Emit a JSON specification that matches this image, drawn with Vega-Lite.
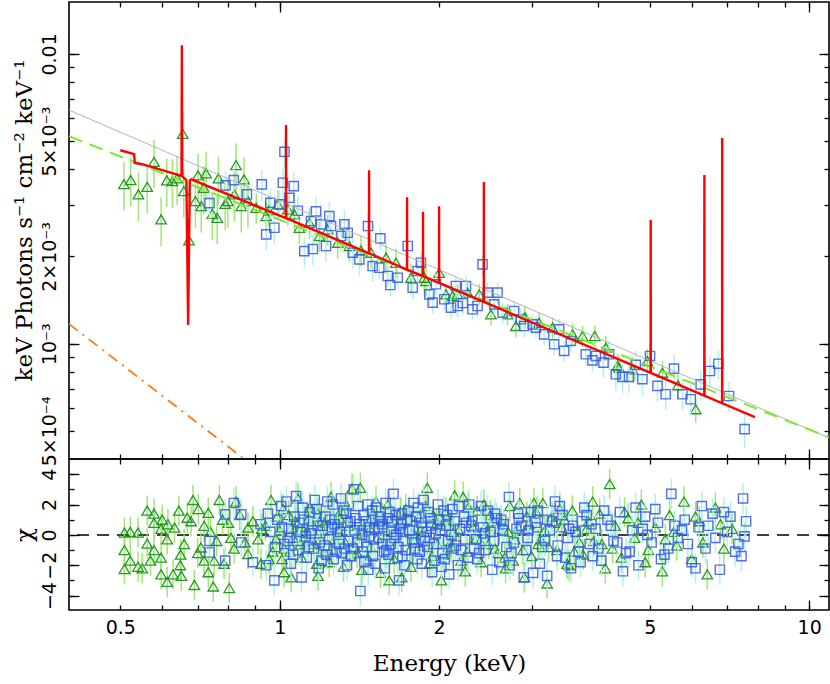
{
  "$schema": "https://vega.github.io/schema/vega-lite/v6.json",
  "padding": {"left": 12, "top": 0, "right": 2, "bottom": 0},
  "spacing": 0,
  "bounds": "flush",
  "background": "white",
  "config": {
    "view": {"stroke": "black", "strokeWidth": 1.6},
    "axis": {"domain": false, "grid": false, "tickColor": "black", "tickWidth": 1.3, "labelFont": "DejaVu Sans", "labelFontSize": 19, "labelColor": "black", "titleFont": "DejaVu Serif", "titleFontSize": 23, "titleFontWeight": "normal", "titleColor": "black", "labelFlush": false, "labelOverlap": false}
  },
  "datasets": {
    "model": [
      {"c": "gray", "E": 0.4, "f": 0.0064}, {"c": "gray", "E": 10.9, "f": 0.000473},
      {"c": "green", "E": 0.4, "f": 0.0052}, {"c": "green", "E": 10.9, "f": 0.000475},
      {"c": "orange", "E": 0.4, "f": 0.00117}, {"c": "orange", "E": 0.85, "f": 0.000405},
      {"c": "red", "E": 0.5, "f": 0.00465}, {"c": "red", "E": 0.531, "f": 0.00451}, {"c": "red", "E": 0.5325, "f": 0.0042}, {"c": "red", "E": 0.548, "f": 0.00417},
      {"c": "red", "E": 0.6525, "f": 0.00379}, {"c": "red", "E": 0.6535, "f": 0.0107}, {"c": "red", "E": 0.6545, "f": 0.00378},
      {"c": "red", "E": 0.6665, "f": 0.00367}, {"c": "red", "E": 0.6715, "f": 0.00116}, {"c": "red", "E": 0.6765, "f": 0.00366}, {"c": "red", "E": 0.681, "f": 0.00369},
      {"c": "red", "E": 1.0275, "f": 0.00271}, {"c": "red", "E": 1.028, "f": 0.00568}, {"c": "red", "E": 1.0285, "f": 0.00271},
      {"c": "red", "E": 1.4745, "f": 0.00205}, {"c": "red", "E": 1.475, "f": 0.00397}, {"c": "red", "E": 1.4755, "f": 0.00205},
      {"c": "red", "E": 1.7395, "f": 0.0018}, {"c": "red", "E": 1.74, "f": 0.0032}, {"c": "red", "E": 1.7405, "f": 0.0018},
      {"c": "red", "E": 1.8645, "f": 0.00171}, {"c": "red", "E": 1.865, "f": 0.00285}, {"c": "red", "E": 1.8655, "f": 0.00171},
      {"c": "red", "E": 1.9995, "f": 0.00162}, {"c": "red", "E": 2.0, "f": 0.00298}, {"c": "red", "E": 2.0005, "f": 0.00162},
      {"c": "red", "E": 2.4295, "f": 0.001393}, {"c": "red", "E": 2.43, "f": 0.00361}, {"c": "red", "E": 2.4305, "f": 0.001393},
      {"c": "red", "E": 5.018, "f": 0.000793}, {"c": "red", "E": 5.02, "f": 0.00267}, {"c": "red", "E": 5.022, "f": 0.000793},
      {"c": "red", "E": 6.337, "f": 0.000662}, {"c": "red", "E": 6.34, "f": 0.00382}, {"c": "red", "E": 6.343, "f": 0.000662},
      {"c": "red", "E": 6.847, "f": 0.000623}, {"c": "red", "E": 6.85, "f": 0.00512}, {"c": "red", "E": 6.853, "f": 0.000623},
      {"c": "red", "E": 7.9, "f": 0.000558}
    ],
    "top_g": [
      {"E":0.508,"f":0.003554,"e":0.000675},{"E":0.523,"f":0.003668,"e":0.000697},{"E":0.541,"f":0.003275,"e":0.000622},{"E":0.562,"f":0.003478,"e":0.000661},
      {"E":0.579,"f":0.004243,"e":0.000806},{"E":0.597,"f":0.002685,"e":0.00051},{"E":0.612,"f":0.00366,"e":0.000695},{"E":0.627,"f":0.003639,"e":0.000691},
      {"E":0.64,"f":0.003718,"e":0.000706},{"E":0.656,"f":0.005298,"e":0.001007},{"E":0.659,"f":0.003362,"e":0.000639},{"E":0.674,"f":0.002273,"e":0.000432},
      {"E":0.693,"f":0.003105,"e":0.00059},{"E":0.701,"f":0.003808,"e":0.000724},{"E":0.711,"f":0.002984,"e":0.000567},{"E":0.719,"f":0.003451,"e":0.000656},
      {"E":0.726,"f":0.003869,"e":0.000735},{"E":0.746,"f":0.002807,"e":0.000533},{"E":0.762,"f":0.002719,"e":0.000517},{"E":0.766,"f":0.003718,"e":0.000706},
      {"E":0.789,"f":0.003039,"e":0.000577},{"E":0.798,"f":0.003105,"e":0.00059},{"E":0.821,"f":0.003275,"e":0.000622},{"E":0.827,"f":0.004133,"e":0.000785},
      {"E":0.846,"f":0.002984,"e":0.000567},{"E":0.856,"f":0.003689,"e":0.000701},{"E":0.871,"f":0.003105,"e":0.00059},{"E":0.903,"f":0.002944,"e":0.000353},
      {"E":0.943,"f":0.002756,"e":0.000331},{"E":0.954,"f":0.002884,"e":0.000346},{"E":0.992,"f":0.003025,"e":0.000363},{"E":1.036,"f":0.002907,"e":0.000349},
      {"E":1.066,"f":0.002794,"e":0.000335},{"E":1.089,"f":0.002512,"e":0.000301},{"E":1.138,"f":0.002614,"e":0.000314},{"E":1.188,"f":0.002352,"e":0.000282},
      {"E":1.232,"f":0.00248,"e":0.000298},{"E":1.287,"f":0.00223,"e":0.000268},{"E":1.354,"f":0.002173,"e":0.000261},{"E":1.424,"f":0.002099,"e":0.000252},
      {"E":1.488,"f":0.00206,"e":0.000247},{"E":1.588,"f":0.00198,"e":0.000238},{"E":1.658,"f":0.001902,"e":0.000228},{"E":1.77,"f":0.001689,"e":0.000203},
      {"E":1.875,"f":0.001689,"e":0.000203},{"E":1.889,"f":0.001645,"e":0.000197},{"E":2.001,"f":0.001757,"e":0.000149},{"E":2.061,"f":0.00148,"e":0.000126},
      {"E":2.121,"f":0.001461,"e":0.000124},{"E":2.168,"f":0.00148,"e":0.000126},{"E":2.264,"f":0.0015,"e":0.000128},{"E":2.381,"f":0.00148,"e":0.000126},
      {"E":2.506,"f":0.001263,"e":0.000107},{"E":2.694,"f":0.001263,"e":0.000107},{"E":2.793,"f":0.001151,"e":0.000098},{"E":2.904,"f":0.001236,"e":0.000105},
      {"E":3.09,"f":0.001181,"e":0.0001},{"E":3.276,"f":0.001136,"e":0.000097},{"E":3.573,"f":0.001077,"e":0.000092},{"E":3.732,"f":0.001063,"e":0.00009},
      {"E":3.937,"f":0.001063,"e":0.00009},{"E":4.13,"f":0.000969,"e":0.000097},{"E":4.345,"f":0.000838,"e":0.000084},{"E":4.375,"f":0.000827,"e":0.000083},
      {"E":4.637,"f":0.000816,"e":0.000082},{"E":4.949,"f":0.000871,"e":0.000087},{"E":5.283,"f":0.000794,"e":0.000079},{"E":5.653,"f":0.000719,"e":0.000072},
      {"E":6.106,"f":0.000594,"e":0.000059}
    ],
    "top_b": [
      {"E":1.021,"f":0.004593,"e":0.000551},{"E":0.737,"f":0.003056,"e":0.000367},{"E":0.79,"f":0.003518,"e":0.000422},{"E":0.819,"f":0.003668,"e":0.00044},
      {"E":0.867,"f":0.003275,"e":0.000393},{"E":0.925,"f":0.003545,"e":0.000425},{"E":0.96,"f":0.003063,"e":0.000368},{"E":0.943,"f":0.002384,"e":0.000286},
      {"E":0.977,"f":0.002512,"e":0.000301},{"E":0.999,"f":0.003025,"e":0.000363},{"E":1.014,"f":0.003591,"e":0.000431},{"E":1.043,"f":0.003187,"e":0.000382},
      {"E":1.063,"f":0.003498,"e":0.00042},{"E":1.082,"f":0.002875,"e":0.000345},{"E":1.113,"f":0.002087,"e":0.00025},{"E":1.155,"f":0.002121,"e":0.000255},
      {"E":1.171,"f":0.002861,"e":0.000343},{"E":1.146,"f":0.002649,"e":0.000318},{"E":1.197,"f":0.00258,"e":0.00031},{"E":1.241,"f":0.002756,"e":0.000331},
      {"E":1.25,"f":0.002546,"e":0.000306},{"E":1.325,"f":0.00258,"e":0.00031},{"E":1.223,"f":0.002173,"e":0.000261},{"E":1.306,"f":0.002352,"e":0.000282},
      {"E":1.344,"f":0.002414,"e":0.00029},{"E":1.374,"f":0.00206,"e":0.000247},{"E":1.414,"f":0.001954,"e":0.000234},{"E":1.468,"f":0.002546,"e":0.000306},
      {"E":1.549,"f":0.002309,"e":0.000196},{"E":1.498,"f":0.001853,"e":0.000222},{"E":1.542,"f":0.001828,"e":0.000155},{"E":1.6,"f":0.001712,"e":0.000146},
      {"E":1.671,"f":0.001689,"e":0.000144},{"E":1.618,"f":0.001594,"e":0.000135},{"E":1.745,"f":0.002173,"e":0.000185},{"E":1.783,"f":0.00156,"e":0.000133},
      {"E":1.848,"f":0.001902,"e":0.000162},{"E":1.822,"f":0.001781,"e":0.000151},{"E":1.917,"f":0.00148,"e":0.000126},{"E":1.945,"f":0.001385,"e":0.000118},
      {"E":2.151,"f":0.001581,"e":0.000134},{"E":2.168,"f":0.001349,"e":0.000115},{"E":2.416,"f":0.001878,"e":0.00016},{"E":1.973,"f":0.001603,"e":0.000136},
      {"E":2.046,"f":0.001423,"e":0.000121},{"E":2.106,"f":0.001331,"e":0.000113},{"E":2.218,"f":0.001381,"e":0.000117},{"E":2.248,"f":0.001581,"e":0.000134},
      {"E":2.313,"f":0.001314,"e":0.000112},{"E":2.365,"f":0.001349,"e":0.000115},{"E":2.47,"f":0.0015,"e":0.000128},{"E":2.579,"f":0.0015,"e":0.000128},
      {"E":2.542,"f":0.001367,"e":0.000116},{"E":2.636,"f":0.001279,"e":0.000109},{"E":2.772,"f":0.001297,"e":0.00011},{"E":2.854,"f":0.001214,"e":0.000103},
      {"E":2.896,"f":0.001151,"e":0.000098},{"E":3.003,"f":0.001166,"e":0.000099},{"E":3.047,"f":0.001136,"e":0.000097},{"E":3.158,"f":0.001077,"e":0.000092},
      {"E":3.371,"f":0.001121,"e":0.000095},{"E":3.299,"f":0.000995,"e":0.000085},{"E":3.445,"f":0.000944,"e":0.00008},{"E":3.547,"f":0.001022,"e":0.000087},
      {"E":3.785,"f":0.000919,"e":0.000078},{"E":3.897,"f":0.000876,"e":0.000074},{"E":3.954,"f":0.000907,"e":0.000077},{"E":4.088,"f":0.00086,"e":0.000103},
      {"E":4.189,"f":0.000919,"e":0.00011},{"E":4.313,"f":0.000784,"e":0.000094},{"E":4.44,"f":0.000768,"e":0.000092},{"E":4.569,"f":0.000768,"e":0.000092},
      {"E":4.704,"f":0.000845,"e":0.000101},{"E":4.842,"f":0.000754,"e":0.00009},{"E":5.005,"f":0.000907,"e":0.000109},{"E":5.17,"f":0.000715,"e":0.000086},
      {"E":5.358,"f":0.000669,"e":0.00008},{"E":5.555,"f":0.00082,"e":0.000098},{"E":5.763,"f":0.000669,"e":0.00008},{"E":5.974,"f":0.000643,"e":0.000077},
      {"E":6.238,"f":0.000724,"e":0.000087},{"E":6.495,"f":0.000805,"e":0.000097},{"E":6.737,"f":0.000853,"e":0.000102},{"E":7.055,"f":0.00066,"e":0.000079},
      {"E":7.553,"f":0.000507,"e":0.000071}
    ],
    "res_g": [
      {"E":0.509,"r":0.15,"lo":-0.85,"hi":1.15},{"E":0.522,"r":0.2,"lo":-0.8,"hi":1.2},{"E":0.54,"r":0.15,"lo":-0.85,"hi":1.15},{"E":0.509,"r":-1.0,"lo":-2.0,"hi":0.0},
      {"E":0.509,"r":-2.25,"lo":-3.25,"hi":-1.25},{"E":0.522,"r":-1.7,"lo":-2.7,"hi":-0.7},{"E":0.54,"r":-2.1,"lo":-3.1,"hi":-1.1},{"E":0.562,"r":1.6,"lo":0.6,"hi":2.6},
      {"E":0.579,"r":1.4,"lo":0.4,"hi":2.4},{"E":0.579,"r":0.8,"lo":-0.2,"hi":1.8},{"E":0.562,"r":-0.57,"lo":-1.57,"hi":0.43},{"E":0.579,"r":-1.0,"lo":-2.0,"hi":0.0},
      {"E":0.597,"r":-1.5,"lo":-2.5,"hi":-0.5},{"E":0.597,"r":-2.6,"lo":-3.6,"hi":-1.6},{"E":0.613,"r":-3.1,"lo":-4.1,"hi":-2.1},{"E":0.629,"r":-2.6,"lo":-3.6,"hi":-1.6},
      {"E":0.649,"r":-2.0,"lo":-3.0,"hi":-1.0},{"E":0.652,"r":-2.7,"lo":-3.7,"hi":-1.7},{"E":0.686,"r":2.3,"lo":1.3,"hi":3.3},{"E":0.69,"r":-3.3,"lo":-4.3,"hi":-2.3},
      {"E":0.702,"r":1.7,"lo":0.7,"hi":2.7},{"E":0.749,"r":-3.4,"lo":-4.4,"hi":-2.4},{"E":0.769,"r":2.3,"lo":1.3,"hi":3.3},{"E":0.803,"r":-3.5,"lo":-4.5,"hi":-2.5},
      {"E":0.645,"r":1.6,"lo":0.6,"hi":2.6},{"E":0.615,"r":0.7,"lo":-0.3,"hi":1.7},{"E":0.633,"r":0.48,"lo":-0.52,"hi":1.48},{"E":0.669,"r":1.13,"lo":0.13,"hi":2.13},
      {"E":0.733,"r":-2.46,"lo":-3.46,"hi":-1.46},{"E":0.72,"r":-1.7,"lo":-2.7,"hi":-0.7},{"E":0.71,"r":-0.83,"lo":-1.83,"hi":0.17},{"E":0.733,"r":1.45,"lo":0.45,"hi":2.45},
      {"E":0.752,"r":-1.7,"lo":-2.7,"hi":-0.7},{"E":0.785,"r":-1.9,"lo":-2.9,"hi":-0.9},{"E":0.827,"r":2.2,"lo":1.2,"hi":3.2},{"E":0.809,"r":-0.2,"lo":-1.2,"hi":0.8},
      {"E":0.871,"r":0.48,"lo":-0.52,"hi":1.48},{"E":0.871,"r":-1.26,"lo":-2.26,"hi":-0.26},{"E":0.963,"r":2.3,"lo":1.3,"hi":3.3},{"E":1.019,"r":-2.46,"lo":-3.46,"hi":-1.46},
      {"E":1.051,"r":-2.8,"lo":-3.8,"hi":-1.8},{"E":1.083,"r":2.4,"lo":1.4,"hi":3.4},{"E":1.181,"r":-2.7,"lo":-3.7,"hi":-1.7},{"E":0.922,"r":-1.9,"lo":-2.9,"hi":-0.9},
      {"E":0.597,"r":0.4,"lo":-0.6,"hi":1.4},{"E":0.613,"r":-0.3,"lo":-1.3,"hi":0.7},{"E":0.66,"r":-0.6,"lo":-1.6,"hi":0.4},{"E":0.68,"r":0.9,"lo":-0.1,"hi":1.9},
      {"E":0.7,"r":-1.2,"lo":-2.2,"hi":-0.2},{"E":0.72,"r":0.6,"lo":-0.4,"hi":1.6},{"E":0.74,"r":0.2,"lo":-0.8,"hi":1.2},{"E":0.76,"r":-0.4,"lo":-1.4,"hi":0.6},
      {"E":0.78,"r":1.0,"lo":0.0,"hi":2.0},{"E":0.8,"r":0.8,"lo":-0.2,"hi":1.8},{"E":0.82,"r":-0.9,"lo":-1.9,"hi":0.1},{"E":0.84,"r":1.3,"lo":0.3,"hi":2.3},
      {"E":0.86,"r":-0.5,"lo":-1.5,"hi":0.5},{"E":0.89,"r":0.9,"lo":-0.1,"hi":1.9},{"E":0.91,"r":-0.3,"lo":-1.3,"hi":0.7},{"E":0.94,"r":0.6,"lo":-0.4,"hi":1.6},
      {"E":0.97,"r":-1.1,"lo":-2.1,"hi":-0.1},{"E":0.99,"r":1.2,"lo":0.2,"hi":2.2},{"E":0.65,"r":-1.3,"lo":-2.3,"hi":-0.3},{"E":0.55,"r":-2.2,"lo":-3.2,"hi":-1.2},
      {"E":0.57,"r":-1.7,"lo":-2.7,"hi":-0.7},{"E":0.6,"r":1.0,"lo":0.0,"hi":2.0},
      {"E":1.0,"r":0.3,"lo":-0.7,"hi":1.3},{"E":1.02,"r":-0.9,"lo":-1.9,"hi":0.1},{"E":1.04,"r":1.3,"lo":0.3,"hi":2.3},{"E":1.06,"r":-0.2,"lo":-1.2,"hi":0.8},
      {"E":1.08,"r":0.7,"lo":-0.3,"hi":1.7},{"E":1.1,"r":-1.5,"lo":-2.5,"hi":-0.5},{"E":1.12,"r":0.1,"lo":-0.9,"hi":1.1},{"E":1.14,"r":1.8,"lo":0.8,"hi":2.8},
      {"E":1.16,"r":-0.6,"lo":-1.6,"hi":0.4},{"E":1.19,"r":0.9,"lo":-0.1,"hi":1.9},{"E":1.21,"r":-1.2,"lo":-2.2,"hi":-0.2},{"E":1.23,"r":0.4,"lo":-0.6,"hi":1.4},
      {"E":1.25,"r":2.5,"lo":1.5,"hi":3.5},{"E":1.27,"r":-0.3,"lo":-1.3,"hi":0.7},{"E":1.3,"r":1.1,"lo":0.1,"hi":2.1},{"E":1.32,"r":-2.1,"lo":-3.1,"hi":-1.1},
      {"E":1.35,"r":0.6,"lo":-0.4,"hi":1.6},{"E":1.37,"r":3.05,"lo":2.05,"hi":4.05},{"E":1.39,"r":-0.8,"lo":-1.8,"hi":0.2},{"E":1.42,"r":3.1,"lo":2.1,"hi":4.1},
      {"E":1.44,"r":0.2,"lo":-0.8,"hi":1.2},{"E":1.47,"r":-1.6,"lo":-2.6,"hi":-0.6},{"E":1.5,"r":1.4,"lo":0.4,"hi":2.4},{"E":1.52,"r":2.2,"lo":1.2,"hi":3.2},
      {"E":1.55,"r":-2.5,"lo":-3.5,"hi":-1.5},{"E":1.58,"r":0.5,"lo":-0.5,"hi":1.5},{"E":1.61,"r":-3.0,"lo":-4.0,"hi":-2.0},{"E":1.64,"r":1.0,"lo":0.0,"hi":2.0},
      {"E":1.67,"r":-0.4,"lo":-1.4,"hi":0.6},{"E":1.7,"r":-2.8,"lo":-3.8,"hi":-1.8},{"E":1.73,"r":1.7,"lo":0.7,"hi":2.7},{"E":1.76,"r":-1.0,"lo":-2.0,"hi":0.0},
      {"E":1.8,"r":0.0,"lo":-1.0,"hi":1.0},{"E":1.83,"r":1.2,"lo":0.2,"hi":2.2},{"E":1.87,"r":-0.7,"lo":-1.7,"hi":0.3},{"E":1.9,"r":3.1,"lo":2.1,"hi":4.1},
      {"E":1.94,"r":-1.4,"lo":-2.4,"hi":-0.4},{"E":1.98,"r":0.8,"lo":-0.2,"hi":1.8},{"E":2.02,"r":-3.0,"lo":-4.0,"hi":-2.0},{"E":2.06,"r":1.5,"lo":0.5,"hi":2.5},
      {"E":2.1,"r":-0.5,"lo":-1.5,"hi":0.5},{"E":2.14,"r":2.6,"lo":1.6,"hi":3.6},{"E":2.18,"r":0.3,"lo":-0.7,"hi":1.3},{"E":2.22,"r":2.5,"lo":1.5,"hi":3.5},
      {"E":2.26,"r":-1.1,"lo":-2.1,"hi":-0.1},{"E":2.3,"r":1.0,"lo":0.0,"hi":2.0},{"E":2.35,"r":-0.2,"lo":-1.2,"hi":0.8},{"E":2.4,"r":-1.8,"lo":-2.8,"hi":-0.8},
      {"E":2.45,"r":0.6,"lo":-0.4,"hi":1.6},{"E":2.5,"r":1.3,"lo":0.3,"hi":2.3},{"E":2.55,"r":-0.9,"lo":-1.9,"hi":0.1},{"E":2.6,"r":0.4,"lo":-0.6,"hi":1.4},
      {"E":2.66,"r":-1.5,"lo":-2.5,"hi":-0.5},{"E":2.72,"r":1.9,"lo":0.9,"hi":2.9},{"E":2.78,"r":-0.3,"lo":-1.3,"hi":0.7},{"E":2.84,"r":2.1,"lo":1.1,"hi":3.1},
      {"E":2.9,"r":-2.8,"lo":-3.8,"hi":-1.8},{"E":2.96,"r":0.7,"lo":-0.3,"hi":1.7},{"E":3.02,"r":2.1,"lo":1.1,"hi":3.1},{"E":3.08,"r":-0.6,"lo":-1.6,"hi":0.4},
      {"E":3.14,"r":2.1,"lo":1.1,"hi":3.1},{"E":3.2,"r":-3.2,"lo":-4.2,"hi":-2.2},{"E":3.27,"r":1.2,"lo":0.2,"hi":2.2},{"E":3.34,"r":-1.0,"lo":-2.0,"hi":0.0},
      {"E":3.41,"r":0.5,"lo":-0.5,"hi":1.5},{"E":3.49,"r":-1.9,"lo":-2.9,"hi":-0.9},{"E":3.57,"r":1.6,"lo":0.6,"hi":2.6},{"E":3.65,"r":0.2,"lo":-0.8,"hi":1.2},
      {"E":3.74,"r":-1.3,"lo":-2.3,"hi":-0.3},{"E":3.83,"r":0.9,"lo":-0.1,"hi":1.9},
      {"E":1.01,"r":-1.6,"lo":-2.6,"hi":-0.6},{"E":1.07,"r":0.9,"lo":-0.1,"hi":1.9},{"E":1.13,"r":-0.4,"lo":-1.4,"hi":0.6},{"E":1.18,"r":1.4,"lo":0.4,"hi":2.4},
      {"E":1.24,"r":-1.8,"lo":-2.8,"hi":-0.8},{"E":1.29,"r":0.3,"lo":-0.7,"hi":1.3},{"E":1.34,"r":1.9,"lo":0.9,"hi":2.9},{"E":1.4,"r":-1.2,"lo":-2.2,"hi":-0.2},
      {"E":1.46,"r":0.7,"lo":-0.3,"hi":1.7},{"E":1.53,"r":-0.2,"lo":-1.2,"hi":0.8},{"E":1.6,"r":2.0,"lo":1.0,"hi":3.0},{"E":1.68,"r":0.6,"lo":-0.4,"hi":1.6},
      {"E":1.77,"r":-2.1,"lo":-3.1,"hi":-1.1},{"E":1.85,"r":0.4,"lo":-0.6,"hi":1.4},{"E":1.95,"r":1.3,"lo":0.3,"hi":2.3},{"E":2.04,"r":-1.3,"lo":-2.3,"hi":-0.3},
      {"E":2.13,"r":0.2,"lo":-0.8,"hi":1.2},{"E":2.24,"r":-2.4,"lo":-3.4,"hi":-1.4},{"E":2.36,"r":1.6,"lo":0.6,"hi":2.6},{"E":2.48,"r":-0.6,"lo":-1.6,"hi":0.4},
      {"E":2.62,"r":0.9,"lo":-0.1,"hi":1.9},{"E":2.76,"r":-1.7,"lo":-2.7,"hi":-0.7},{"E":2.93,"r":1.2,"lo":0.2,"hi":2.2},{"E":3.11,"r":-0.3,"lo":-1.3,"hi":0.7},
      {"E":3.3,"r":0.8,"lo":-0.2,"hi":1.8},{"E":3.52,"r":-2.0,"lo":-3.0,"hi":-1.0},
      {"E":0.925,"r":0.4,"lo":-0.6,"hi":1.4},{"E":0.955,"r":-1.6,"lo":-2.6,"hi":-0.6},{"E":0.985,"r":-0.3,"lo":-1.3,"hi":0.7},{"E":1.015,"r":1.7,"lo":0.7,"hi":2.7},
      {"E":1.055,"r":0.5,"lo":-0.5,"hi":1.5},{"E":1.095,"r":-0.6,"lo":-1.6,"hi":0.4},{"E":1.135,"r":1.1,"lo":0.1,"hi":2.1},{"E":1.175,"r":-1.9,"lo":-2.9,"hi":-0.9},
      {"E":1.215,"r":0.8,"lo":-0.2,"hi":1.8},{"E":1.255,"r":-0.9,"lo":-1.9,"hi":0.1},{"E":1.305,"r":1.6,"lo":0.6,"hi":2.6},{"E":1.355,"r":-1.3,"lo":-2.3,"hi":-0.3},
      {"E":1.415,"r":0.4,"lo":-0.6,"hi":1.4},{"E":1.485,"r":-0.8,"lo":-1.8,"hi":0.2},{"E":1.565,"r":1.1,"lo":0.1,"hi":2.1},{"E":1.645,"r":-1.6,"lo":-2.6,"hi":-0.6},
      {"E":1.715,"r":0.9,"lo":-0.1,"hi":1.9},{"E":1.795,"r":-0.4,"lo":-1.4,"hi":0.6},{"E":1.885,"r":1.9,"lo":0.9,"hi":2.9},{"E":1.985,"r":-0.6,"lo":-1.6,"hi":0.4},
      {"E":2.08,"r":1.0,"lo":0.0,"hi":2.0},{"E":2.2,"r":-1.7,"lo":-2.7,"hi":-0.7},{"E":2.32,"r":0.5,"lo":-0.5,"hi":1.5},{"E":2.43,"r":2.0,"lo":1.0,"hi":3.0},
      {"E":2.58,"r":-1.2,"lo":-2.2,"hi":-0.2},{"E":2.7,"r":0.2,"lo":-0.8,"hi":1.2},{"E":2.88,"r":-1.0,"lo":-2.0,"hi":0.0},{"E":3.05,"r":1.5,"lo":0.5,"hi":2.5},
      {"E":3.22,"r":-0.8,"lo":-1.8,"hi":0.2},{"E":3.45,"r":1.0,"lo":0.0,"hi":2.0},{"E":3.68,"r":-0.5,"lo":-1.5,"hi":0.5},{"E":3.9,"r":2.2,"lo":1.2,"hi":3.2},
      {"E":4.25,"r":-0.9,"lo":-1.9,"hi":0.1},{"E":4.75,"r":0.8,"lo":-0.2,"hi":1.8},{"E":5.35,"r":-0.3,"lo":-1.3,"hi":0.7},{"E":6.1,"r":1.2,"lo":0.2,"hi":2.2},
      {"E":1.045,"r":-1.1,"lo":-2.1,"hi":-0.1},{"E":1.115,"r":0.6,"lo":-0.4,"hi":1.6},{"E":1.195,"r":-0.3,"lo":-1.3,"hi":0.7},{"E":1.265,"r":1.2,"lo":0.2,"hi":2.2},
      {"E":1.33,"r":-0.5,"lo":-1.5,"hi":0.5},{"E":1.43,"r":-2.3,"lo":-3.3,"hi":-1.3},{"E":1.51,"r":0.9,"lo":-0.1,"hi":1.9},{"E":1.59,"r":-1.2,"lo":-2.2,"hi":-0.2},
      {"E":1.69,"r":1.5,"lo":0.5,"hi":2.5},{"E":1.78,"r":0.1,"lo":-0.9,"hi":1.1},{"E":1.92,"r":-1.9,"lo":-2.9,"hi":-0.9},{"E":2.01,"r":0.7,"lo":-0.3,"hi":1.7},
      {"E":2.11,"r":-0.8,"lo":-1.8,"hi":0.2},{"E":2.27,"r":1.8,"lo":0.8,"hi":2.8},{"E":2.39,"r":-0.4,"lo":-1.4,"hi":0.6},{"E":2.53,"r":0.9,"lo":-0.1,"hi":1.9},
      {"E":2.67,"r":-2.2,"lo":-3.2,"hi":-1.2},{"E":2.82,"r":0.5,"lo":-0.5,"hi":1.5},{"E":2.99,"r":-1.4,"lo":-2.4,"hi":-0.4},{"E":3.17,"r":0.3,"lo":-0.7,"hi":1.3},
      {"E":3.38,"r":1.7,"lo":0.7,"hi":2.7},{"E":3.6,"r":-1.1,"lo":-2.1,"hi":-0.1},{"E":3.8,"r":0.4,"lo":-0.6,"hi":1.4},{"E":4.06,"r":-0.6,"lo":-1.6,"hi":0.4},
      {"E":4.48,"r":1.5,"lo":0.5,"hi":2.5},{"E":4.9,"r":-1.8,"lo":-2.8,"hi":-0.8},{"E":5.55,"r":0.2,"lo":-0.8,"hi":1.2},{"E":6.3,"r":-0.5,"lo":-1.5,"hi":0.5},
      {"E":6.8,"r":0.7,"lo":-0.3,"hi":1.7},
      {"E":3.92,"r":-0.4,"lo":-1.4,"hi":0.6},{"E":4.02,"r":1.4,"lo":0.4,"hi":2.4},{"E":4.12,"r":-2.2,"lo":-3.2,"hi":-1.2},{"E":4.2,"r":3.35,"lo":2.35,"hi":4.35},
      {"E":4.3,"r":0.6,"lo":-0.4,"hi":1.6},{"E":4.42,"r":-1.5,"lo":-2.5,"hi":-0.5},{"E":4.55,"r":1.1,"lo":0.1,"hi":2.1},{"E":4.68,"r":-0.2,"lo":-1.2,"hi":0.8},
      {"E":4.82,"r":2.0,"lo":1.0,"hi":3.0},{"E":4.97,"r":-1.0,"lo":-2.0,"hi":0.0},{"E":5.12,"r":0.5,"lo":-0.5,"hi":1.5},{"E":5.28,"r":-2.4,"lo":-3.4,"hi":-1.4},
      {"E":5.45,"r":1.3,"lo":0.3,"hi":2.3},{"E":5.62,"r":-0.7,"lo":-1.7,"hi":0.3},{"E":5.8,"r":2.2,"lo":1.2,"hi":3.2},{"E":6.0,"r":-1.6,"lo":-2.6,"hi":-0.6},
      {"E":6.2,"r":0.9,"lo":-0.1,"hi":1.9},{"E":6.42,"r":-2.6,"lo":-3.6,"hi":-1.6},{"E":6.65,"r":1.8,"lo":0.8,"hi":2.8},{"E":6.9,"r":-0.9,"lo":-1.9,"hi":0.1},
      {"E":7.15,"r":0.4,"lo":-0.6,"hi":1.4}
    ],
    "res_b": [
      {"E":0.737,"r":-0.4,"lo":-1.4,"hi":0.6},{"E":0.737,"r":-1.16,"lo":-2.16,"hi":-0.16},{"E":0.789,"r":1.35,"lo":0.35,"hi":2.35},{"E":0.789,"r":-1.7,"lo":-2.7,"hi":-0.7},
      {"E":0.819,"r":2.1,"lo":1.1,"hi":3.1},{"E":0.846,"r":1.35,"lo":0.35,"hi":2.35},{"E":0.846,"r":-0.5,"lo":-1.5,"hi":0.5},{"E":0.89,"r":-1.8,"lo":-2.8,"hi":-0.8},
      {"E":0.92,"r":0.7,"lo":-0.3,"hi":1.7},{"E":0.943,"r":-2.0,"lo":-3.0,"hi":-1.0},{"E":0.96,"r":0.2,"lo":-0.8,"hi":1.2},{"E":0.977,"r":-3.0,"lo":-4.0,"hi":-2.0},
      {"E":0.99,"r":1.0,"lo":0.0,"hi":2.0},{"E":1.006,"r":1.9,"lo":0.9,"hi":2.9},{"E":1.02,"r":-0.6,"lo":-1.6,"hi":0.4},{"E":1.04,"r":0.4,"lo":-0.6,"hi":1.4},
      {"E":1.06,"r":-1.3,"lo":-2.3,"hi":-0.3},{"E":1.074,"r":2.55,"lo":1.55,"hi":3.55},{"E":1.09,"r":0.8,"lo":-0.2,"hi":1.8},{"E":1.1,"r":-2.8,"lo":-3.8,"hi":-1.8},
      {"E":1.12,"r":-0.1,"lo":-1.1,"hi":0.9},{"E":1.14,"r":1.5,"lo":0.5,"hi":2.5},{"E":1.16,"r":-0.9,"lo":-1.9,"hi":0.1},{"E":1.18,"r":0.6,"lo":-0.4,"hi":1.6},
      {"E":1.2,"r":-1.7,"lo":-2.7,"hi":-0.7},{"E":1.22,"r":1.2,"lo":0.2,"hi":2.2},{"E":1.24,"r":-0.3,"lo":-1.3,"hi":0.7},{"E":1.26,"r":2.0,"lo":1.0,"hi":3.0},
      {"E":1.28,"r":-1.1,"lo":-2.1,"hi":-0.1},{"E":1.3,"r":0.2,"lo":-0.8,"hi":1.2},{"E":1.32,"r":1.6,"lo":0.6,"hi":2.6},{"E":1.34,"r":-2.0,"lo":-3.0,"hi":-1.0},
      {"E":1.36,"r":0.9,"lo":-0.1,"hi":1.9},{"E":1.38,"r":3.0,"lo":2.0,"hi":4.0},{"E":1.4,"r":-0.5,"lo":-1.5,"hi":0.5},{"E":1.42,"r":-3.7,"lo":-4.7,"hi":-2.7},
      {"E":1.44,"r":1.3,"lo":0.3,"hi":2.3},{"E":1.46,"r":-0.8,"lo":-1.8,"hi":0.2},{"E":1.48,"r":0.5,"lo":-0.5,"hi":1.5},{"E":1.5,"r":-1.4,"lo":-2.4,"hi":-0.4},
      {"E":1.52,"r":1.8,"lo":0.8,"hi":2.8},{"E":1.54,"r":-0.2,"lo":-1.2,"hi":0.8},{"E":1.56,"r":0.7,"lo":-0.3,"hi":1.7},{"E":1.58,"r":-2.2,"lo":-3.2,"hi":-1.2},
      {"E":1.6,"r":1.1,"lo":0.1,"hi":2.1},{"E":1.62,"r":-0.6,"lo":-1.6,"hi":0.4},{"E":1.64,"r":2.7,"lo":1.7,"hi":3.7},{"E":1.66,"r":0.0,"lo":-1.0,"hi":1.0},
      {"E":1.68,"r":-3.0,"lo":-4.0,"hi":-2.0},{"E":1.7,"r":1.4,"lo":0.4,"hi":2.4},{"E":1.73,"r":-1.0,"lo":-2.0,"hi":0.0},{"E":1.76,"r":0.3,"lo":-0.7,"hi":1.3},
      {"E":1.79,"r":2.1,"lo":1.1,"hi":3.1},{"E":1.82,"r":-1.6,"lo":-2.6,"hi":-0.6},{"E":1.85,"r":0.8,"lo":-0.2,"hi":1.8},{"E":1.88,"r":-0.4,"lo":-1.4,"hi":0.6},
      {"E":1.91,"r":1.5,"lo":0.5,"hi":2.5},{"E":1.94,"r":-2.46,"lo":-3.46,"hi":-1.46},{"E":1.97,"r":0.1,"lo":-0.9,"hi":1.1},{"E":2.0,"r":1.0,"lo":0.0,"hi":2.0},
      {"E":2.03,"r":-1.2,"lo":-2.2,"hi":-0.2},{"E":2.06,"r":0.6,"lo":-0.4,"hi":1.6},{"E":2.09,"r":-2.6,"lo":-3.6,"hi":-1.6},{"E":2.12,"r":1.7,"lo":0.7,"hi":2.7},
      {"E":2.15,"r":-0.7,"lo":-1.7,"hi":0.3},{"E":2.19,"r":0.4,"lo":-0.6,"hi":1.4},{"E":2.23,"r":1.2,"lo":0.2,"hi":2.2},{"E":2.27,"r":-1.5,"lo":-2.5,"hi":-0.5},
      {"E":2.31,"r":0.9,"lo":-0.1,"hi":1.9},{"E":2.35,"r":-0.3,"lo":-1.3,"hi":0.7},{"E":2.4,"r":1.9,"lo":0.9,"hi":2.9},{"E":2.45,"r":-1.0,"lo":-2.0,"hi":0.0},
      {"E":2.5,"r":0.2,"lo":-0.8,"hi":1.2},{"E":2.55,"r":1.4,"lo":0.4,"hi":2.4},{"E":2.6,"r":-1.8,"lo":-2.8,"hi":-0.8},{"E":2.65,"r":0.7,"lo":-0.3,"hi":1.7},
      {"E":2.71,"r":2.5,"lo":1.5,"hi":3.5},{"E":2.77,"r":-0.5,"lo":-1.5,"hi":0.5},{"E":2.83,"r":1.1,"lo":0.1,"hi":2.1},{"E":2.89,"r":-2.8,"lo":-3.8,"hi":-1.8},
      {"E":2.95,"r":0.3,"lo":-0.7,"hi":1.3},{"E":3.01,"r":-2.5,"lo":-3.5,"hi":-1.5},{"E":3.07,"r":1.6,"lo":0.6,"hi":2.6},{"E":3.13,"r":-0.8,"lo":-1.8,"hi":0.2},
      {"E":3.2,"r":-2.7,"lo":-3.7,"hi":-1.7},{"E":3.27,"r":0.9,"lo":-0.1,"hi":1.9},{"E":3.34,"r":-1.4,"lo":-2.4,"hi":-0.4},{"E":3.42,"r":1.3,"lo":0.3,"hi":2.3},
      {"E":3.5,"r":-0.2,"lo":-1.2,"hi":0.8},{"E":3.58,"r":0.6,"lo":-0.4,"hi":1.6},{"E":3.67,"r":-1.1,"lo":-2.1,"hi":-0.1},{"E":3.76,"r":1.8,"lo":0.8,"hi":2.8},
      {"E":3.85,"r":-0.6,"lo":-1.6,"hi":0.4},{"E":3.95,"r":0.4,"lo":-0.6,"hi":1.4},{"E":4.05,"r":-1.7,"lo":-2.7,"hi":-0.7},{"E":4.16,"r":1.0,"lo":0.0,"hi":2.0},
      {"E":4.27,"r":-0.4,"lo":-1.4,"hi":0.6},{"E":4.39,"r":1.5,"lo":0.5,"hi":2.5},{"E":4.51,"r":-1.2,"lo":-2.2,"hi":-0.2},{"E":4.63,"r":0.3,"lo":-0.7,"hi":1.3},
      {"E":4.76,"r":-2.0,"lo":-3.0,"hi":-1.0},{"E":4.9,"r":1.2,"lo":0.2,"hi":2.2},{"E":5.04,"r":-0.5,"lo":-1.5,"hi":0.5},{"E":5.18,"r":0.8,"lo":-0.2,"hi":1.8},
      {"E":5.33,"r":-1.3,"lo":-2.3,"hi":-0.3},{"E":5.49,"r":2.7,"lo":1.7,"hi":3.7},{"E":5.65,"r":-0.2,"lo":-1.2,"hi":0.8},{"E":5.82,"r":1.0,"lo":0.0,"hi":2.0},
      {"E":6.0,"r":-1.8,"lo":-2.8,"hi":-0.8},{"E":6.18,"r":0.5,"lo":-0.5,"hi":1.5},{"E":6.37,"r":-0.9,"lo":-1.9,"hi":0.1},{"E":6.57,"r":1.4,"lo":0.4,"hi":2.4},
      {"E":6.78,"r":-2.3,"lo":-3.3,"hi":-1.3},{"E":7.0,"r":0.2,"lo":-0.8,"hi":1.2},{"E":7.25,"r":-1.1,"lo":-2.1,"hi":-0.1},{"E":7.5,"r":2.4,"lo":1.4,"hi":3.4},
      {"E":7.55,"r":-0.1,"lo":-1.1,"hi":0.9},{"E":7.6,"r":0.9,"lo":-0.1,"hi":1.9},
      {"E":1.01,"r":0.5,"lo":-0.5,"hi":1.5},{"E":1.05,"r":-1.9,"lo":-2.9,"hi":-0.9},{"E":1.11,"r":1.0,"lo":0.0,"hi":2.0},{"E":1.15,"r":0.3,"lo":-0.7,"hi":1.3},
      {"E":1.19,"r":-0.5,"lo":-1.5,"hi":0.5},{"E":1.23,"r":2.2,"lo":1.2,"hi":3.2},{"E":1.27,"r":0.7,"lo":-0.3,"hi":1.7},{"E":1.31,"r":-1.2,"lo":-2.2,"hi":-0.2},
      {"E":1.35,"r":-0.4,"lo":-1.4,"hi":0.6},{"E":1.39,"r":1.1,"lo":0.1,"hi":2.1},{"E":1.43,"r":0.0,"lo":-1.0,"hi":1.0},{"E":1.47,"r":-2.3,"lo":-3.3,"hi":-1.3},
      {"E":1.51,"r":0.4,"lo":-0.6,"hi":1.4},{"E":1.55,"r":1.2,"lo":0.2,"hi":2.2},{"E":1.59,"r":-1.0,"lo":-2.0,"hi":0.0},{"E":1.63,"r":0.9,"lo":-0.1,"hi":1.9},
      {"E":1.67,"r":-1.5,"lo":-2.5,"hi":-0.5},{"E":1.71,"r":0.2,"lo":-0.8,"hi":1.2},{"E":1.75,"r":1.6,"lo":0.6,"hi":2.6},{"E":1.8,"r":-0.9,"lo":-1.9,"hi":0.1},
      {"E":1.86,"r":0.5,"lo":-0.5,"hi":1.5},{"E":1.92,"r":-0.2,"lo":-1.2,"hi":0.8},{"E":1.99,"r":2.0,"lo":1.0,"hi":3.0},{"E":2.05,"r":-1.6,"lo":-2.6,"hi":-0.6},
      {"E":2.11,"r":0.0,"lo":-1.0,"hi":1.0},{"E":2.17,"r":-2.0,"lo":-3.0,"hi":-1.0},{"E":2.25,"r":0.8,"lo":-0.2,"hi":1.8},{"E":2.33,"r":-0.9,"lo":-1.9,"hi":0.1},
      {"E":2.42,"r":0.5,"lo":-0.5,"hi":1.5},{"E":2.52,"r":-2.3,"lo":-3.3,"hi":-1.3},{"E":2.62,"r":1.0,"lo":0.0,"hi":2.0},{"E":2.74,"r":-1.2,"lo":-2.2,"hi":-0.2},
      {"E":2.86,"r":0.6,"lo":-0.4,"hi":1.6},{"E":2.98,"r":1.5,"lo":0.5,"hi":2.5},{"E":3.1,"r":-1.9,"lo":-2.9,"hi":-0.9},{"E":3.24,"r":0.3,"lo":-0.7,"hi":1.3},
      {"E":3.38,"r":1.9,"lo":0.9,"hi":2.9},{"E":3.55,"r":-2.2,"lo":-3.2,"hi":-1.2},{"E":3.72,"r":0.9,"lo":-0.1,"hi":1.9},{"E":3.9,"r":-1.4,"lo":-2.4,"hi":-0.4},
      {"E":0.95,"r":1.4,"lo":0.4,"hi":2.4},{"E":0.98,"r":-0.8,"lo":-1.8,"hi":0.2},{"E":1.03,"r":2.2,"lo":1.2,"hi":3.2},{"E":1.045,"r":-0.2,"lo":-1.2,"hi":0.8},
      {"E":1.085,"r":-1.0,"lo":-2.0,"hi":0.0},{"E":1.105,"r":1.8,"lo":0.8,"hi":2.8},{"E":1.125,"r":-1.5,"lo":-2.5,"hi":-0.5},{"E":1.145,"r":0.1,"lo":-0.9,"hi":1.1},
      {"E":1.165,"r":2.3,"lo":1.3,"hi":3.3},{"E":1.185,"r":-2.2,"lo":-3.2,"hi":-1.2},{"E":1.205,"r":0.6,"lo":-0.4,"hi":1.6},{"E":1.215,"r":-0.7,"lo":-1.7,"hi":0.3},
      {"E":1.245,"r":1.0,"lo":0.0,"hi":2.0},{"E":1.265,"r":-1.6,"lo":-2.6,"hi":-0.6},{"E":1.285,"r":0.4,"lo":-0.6,"hi":1.4},{"E":1.305,"r":2.4,"lo":1.4,"hi":3.4},
      {"E":1.325,"r":-0.9,"lo":-1.9,"hi":0.1},{"E":1.345,"r":0.8,"lo":-0.2,"hi":1.8},{"E":1.365,"r":-1.4,"lo":-2.4,"hi":-0.4},{"E":1.385,"r":0.3,"lo":-0.7,"hi":1.3},
      {"E":1.405,"r":1.9,"lo":0.9,"hi":2.9},{"E":1.435,"r":-1.1,"lo":-2.1,"hi":-0.1},{"E":1.455,"r":0.9,"lo":-0.1,"hi":1.9},{"E":1.475,"r":-0.1,"lo":-1.1,"hi":0.9},
      {"E":1.495,"r":1.6,"lo":0.6,"hi":2.6},{"E":1.515,"r":-1.9,"lo":-2.9,"hi":-0.9},{"E":1.535,"r":0.5,"lo":-0.5,"hi":1.5},{"E":1.565,"r":-0.6,"lo":-1.6,"hi":0.4},
      {"E":1.585,"r":2.1,"lo":1.1,"hi":3.1},{"E":1.605,"r":-1.3,"lo":-2.3,"hi":-0.3},{"E":1.625,"r":0.2,"lo":-0.8,"hi":1.2},{"E":1.655,"r":1.3,"lo":0.3,"hi":2.3},
      {"E":1.675,"r":-0.8,"lo":-1.8,"hi":0.2},{"E":1.695,"r":0.7,"lo":-0.3,"hi":1.7},{"E":1.72,"r":-2.0,"lo":-3.0,"hi":-1.0},{"E":1.74,"r":1.0,"lo":0.0,"hi":2.0},
      {"E":1.78,"r":-0.3,"lo":-1.3,"hi":0.7},{"E":1.81,"r":1.2,"lo":0.2,"hi":2.2},{"E":1.84,"r":-1.1,"lo":-2.1,"hi":-0.1},{"E":1.87,"r":2.3,"lo":1.3,"hi":3.3},
      {"E":1.9,"r":-0.8,"lo":-1.8,"hi":0.2},{"E":1.93,"r":0.6,"lo":-0.4,"hi":1.6},{"E":1.96,"r":-1.7,"lo":-2.7,"hi":-0.7},{"E":2.01,"r":0.3,"lo":-0.7,"hi":1.3},
      {"E":2.04,"r":1.6,"lo":0.6,"hi":2.6},{"E":2.08,"r":-0.4,"lo":-1.4,"hi":0.6},{"E":2.14,"r":0.9,"lo":-0.1,"hi":1.9},{"E":2.2,"r":-1.0,"lo":-2.0,"hi":0.0},
      {"E":2.28,"r":2.0,"lo":1.0,"hi":3.0},{"E":2.36,"r":-1.6,"lo":-2.6,"hi":-0.6},{"E":2.44,"r":0.1,"lo":-0.9,"hi":1.1},{"E":2.57,"r":1.1,"lo":0.1,"hi":2.1},
      {"E":2.68,"r":-0.8,"lo":-1.8,"hi":0.2},{"E":2.8,"r":0.4,"lo":-0.6,"hi":1.4},{"E":2.92,"r":-1.0,"lo":-2.0,"hi":0.0},{"E":3.04,"r":0.8,"lo":-0.2,"hi":1.8},
      {"E":3.17,"r":-0.4,"lo":-1.4,"hi":0.6},{"E":3.31,"r":2.2,"lo":1.2,"hi":3.2},{"E":3.46,"r":-1.5,"lo":-2.5,"hi":-0.5},{"E":3.62,"r":0.2,"lo":-0.8,"hi":1.2},
      {"E":3.8,"r":1.3,"lo":0.3,"hi":2.3},{"E":4.0,"r":-0.9,"lo":-1.9,"hi":0.1},{"E":4.22,"r":0.6,"lo":-0.4,"hi":1.6},{"E":4.45,"r":-2.4,"lo":-3.4,"hi":-1.4},
      {"E":4.7,"r":1.8,"lo":0.8,"hi":2.8},{"E":4.95,"r":0.0,"lo":-1.0,"hi":1.0},{"E":5.25,"r":-1.6,"lo":-2.6,"hi":-0.6},{"E":5.57,"r":0.6,"lo":-0.4,"hi":1.6},
      {"E":5.9,"r":-0.6,"lo":-1.6,"hi":0.4},{"E":6.27,"r":1.9,"lo":0.9,"hi":2.9},{"E":6.65,"r":-0.2,"lo":-1.2,"hi":0.8},{"E":7.1,"r":1.2,"lo":0.2,"hi":2.2},
      {"E":7.45,"r":-1.4,"lo":-2.4,"hi":-0.4},
      {"E":1.035,"r":-0.4,"lo":-1.4,"hi":0.6},{"E":1.065,"r":1.2,"lo":0.2,"hi":2.2},{"E":1.095,"r":0.2,"lo":-0.8,"hi":1.2},{"E":1.135,"r":-0.8,"lo":-1.8,"hi":0.2},
      {"E":1.175,"r":1.7,"lo":0.7,"hi":2.7},{"E":1.225,"r":-1.3,"lo":-2.3,"hi":-0.3},{"E":1.255,"r":0.5,"lo":-0.5,"hi":1.5},{"E":1.295,"r":-0.6,"lo":-1.6,"hi":0.4},
      {"E":1.335,"r":1.4,"lo":0.4,"hi":2.4},{"E":1.375,"r":-0.9,"lo":-1.9,"hi":0.1},{"E":1.415,"r":0.7,"lo":-0.3,"hi":1.7},{"E":1.445,"r":-1.8,"lo":-2.8,"hi":-0.8},
      {"E":1.465,"r":2.0,"lo":1.0,"hi":3.0},{"E":1.505,"r":-0.3,"lo":-1.3,"hi":0.7},{"E":1.545,"r":0.9,"lo":-0.1,"hi":1.9},{"E":1.575,"r":-1.1,"lo":-2.1,"hi":-0.1},
      {"E":1.615,"r":1.5,"lo":0.5,"hi":2.5},{"E":1.645,"r":-0.2,"lo":-1.2,"hi":0.8},{"E":1.685,"r":0.4,"lo":-0.6,"hi":1.4},{"E":1.705,"r":-1.4,"lo":-2.4,"hi":-0.4},
      {"E":1.765,"r":0.9,"lo":-0.1,"hi":1.9},{"E":1.795,"r":-0.5,"lo":-1.5,"hi":0.5},{"E":1.825,"r":1.8,"lo":0.8,"hi":2.8},{"E":1.855,"r":-1.9,"lo":-2.9,"hi":-0.9},
      {"E":1.895,"r":0.2,"lo":-0.8,"hi":1.2},{"E":1.925,"r":1.1,"lo":0.1,"hi":2.1},{"E":1.955,"r":-0.6,"lo":-1.6,"hi":0.4},{"E":2.02,"r":-2.1,"lo":-3.1,"hi":-1.1},
      {"E":2.07,"r":1.3,"lo":0.3,"hi":2.3},{"E":2.13,"r":-0.9,"lo":-1.9,"hi":0.1},{"E":2.18,"r":1.9,"lo":0.9,"hi":2.9},{"E":2.24,"r":-0.3,"lo":-1.3,"hi":0.7},
      {"E":2.3,"r":0.6,"lo":-0.4,"hi":1.6},{"E":2.38,"r":-1.2,"lo":-2.2,"hi":-0.2},{"E":2.47,"r":1.6,"lo":0.6,"hi":2.6},{"E":2.54,"r":-0.4,"lo":-1.4,"hi":0.6},
      {"E":2.64,"r":0.3,"lo":-0.7,"hi":1.3},{"E":2.72,"r":-2.0,"lo":-3.0,"hi":-1.0},{"E":2.82,"r":1.4,"lo":0.4,"hi":2.4},{"E":2.94,"r":-0.2,"lo":-1.2,"hi":0.8},
      {"E":3.06,"r":0.5,"lo":-0.5,"hi":1.5},{"E":3.2,"r":1.0,"lo":0.0,"hi":2.0},{"E":3.35,"r":-0.7,"lo":-1.7,"hi":0.3},{"E":3.52,"r":0.4,"lo":-0.6,"hi":1.4},
      {"E":3.7,"r":-1.8,"lo":-2.8,"hi":-0.8},{"E":3.88,"r":0.7,"lo":-0.3,"hi":1.7},{"E":4.1,"r":1.6,"lo":0.6,"hi":2.6},{"E":4.34,"r":-0.5,"lo":-1.5,"hi":0.5},
      {"E":4.58,"r":-1.1,"lo":-2.1,"hi":-0.1},{"E":4.85,"r":0.4,"lo":-0.6,"hi":1.4},{"E":5.12,"r":1.7,"lo":0.7,"hi":2.7},{"E":5.42,"r":-0.9,"lo":-1.9,"hi":0.1},
      {"E":5.75,"r":0.3,"lo":-0.7,"hi":1.3},{"E":6.1,"r":-2.2,"lo":-3.2,"hi":-1.2},{"E":6.45,"r":0.6,"lo":-0.4,"hi":1.6},{"E":6.9,"r":1.5,"lo":0.5,"hi":2.5},
      {"E":7.35,"r":-0.6,"lo":-1.6,"hi":0.4}
    ]
  },
  "vconcat": [
    {
      "width": 760,
      "height": 457,
      "resolve": {"axis": {"x": "independent", "y": "independent"}},
      "layer": [
        {
          "data": {"name": "top_g"},
          "mark": {"type": "errorbar", "color": "#8fe35a", "opacity": 0.85, "thickness": 1.5},
          "encoding": {
            "x": {"field": "E", "type": "quantitative", "scale": {"type": "log", "domain": [0.4, 10.9], "nice": false}, "axis": null},
            "y": {"field": "f", "type": "quantitative", "scale": {"type": "log", "domain": [0.0004, 0.0151], "nice": false}, "axis": null},
            "yError": {"field": "e"}
          }
        },
        {
          "data": {"name": "top_g"},
          "mark": {"type": "point", "shape": "triangle-up", "filled": false, "size": 110, "stroke": "#1a961a", "strokeWidth": 1.3, "opacity": 0.95},
          "encoding": {
            "x": {"field": "E", "type": "quantitative", "scale": {"type": "log", "domain": [0.4, 10.9], "nice": false}, "axis": null},
            "y": {"field": "f", "type": "quantitative", "scale": {"type": "log", "domain": [0.0004, 0.0151], "nice": false}, "axis": null}
          }
        },
        {
          "data": {"name": "top_b"},
          "mark": {"type": "errorbar", "color": "#a6f2e6", "opacity": 0.9, "thickness": 1.5},
          "encoding": {
            "x": {"field": "E", "type": "quantitative", "scale": {"type": "log", "domain": [0.4, 10.9], "nice": false}, "axis": null},
            "y": {"field": "f", "type": "quantitative", "scale": {"type": "log", "domain": [0.0004, 0.0151], "nice": false}, "axis": null},
            "yError": {"field": "e"}
          }
        },
        {
          "data": {"name": "top_b"},
          "mark": {"type": "point", "shape": "square", "filled": false, "size": 85, "stroke": "#3457f2", "strokeWidth": 1.4, "opacity": 0.85},
          "encoding": {
            "x": {"field": "E", "type": "quantitative", "scale": {"type": "log", "domain": [0.4, 10.9], "nice": false}, "axis": null},
            "y": {"field": "f", "type": "quantitative", "scale": {"type": "log", "domain": [0.0004, 0.0151], "nice": false}, "axis": null}
          }
        },
        {
          "data": {"name": "model"},
          "transform": [{"filter": "datum.c == 'gray'"}],
          "mark": {"type": "line", "color": "#b4b4b4", "strokeWidth": 1, "clip": true},
          "encoding": {
            "x": {"field": "E", "type": "quantitative", "scale": {"type": "log", "domain": [0.4, 10.9], "nice": false},
              "axis": {"orient": "bottom", "values": [0.5, 0.6, 0.7, 0.8, 0.9, 1, 2, 3, 4, 5, 6, 7, 8, 9, 10], "tickSize": 5, "offset": -5, "labels": false, "title": null}},
            "y": {"field": "f", "type": "quantitative", "scale": {"type": "log", "domain": [0.0004, 0.0151], "nice": false},
              "axis": {"orient": "left", "values": [0.0005, 0.0006, 0.0007, 0.0008, 0.0009, 0.001, 0.002, 0.003, 0.004, 0.005, 0.006, 0.007, 0.008, 0.009, 0.01], "tickSize": 5, "offset": -5,
                "labelExpr": "datum.value == 0.01 ? '0.01' : datum.value == 0.005 ? '5×10⁻³' : datum.value == 0.002 ? '2×10⁻³' : datum.value == 0.001 ? '10⁻³' : datum.value == 0.0005 ? '5×10⁻⁴' : ''",
                "labelAngle": -90, "labelAlign": "center", "labelBaseline": "bottom", "labelPadding": 10,
                "title": "keV Photons s⁻¹ cm⁻² keV⁻¹", "titlePadding": 4, "titleY": 218}}
          }
        },
        {
          "data": {"name": "model"},
          "transform": [{"filter": "datum.c == 'orange'"}],
          "mark": {"type": "line", "color": "#ff7a10", "strokeWidth": 1.8, "strokeDash": [11, 6, 2, 6], "clip": true},
          "encoding": {
            "x": {"field": "E", "type": "quantitative", "scale": {"type": "log", "domain": [0.4, 10.9], "nice": false},
              "axis": {"orient": "bottom", "values": [1, 10], "tickSize": 10, "offset": -10, "labels": false, "title": null}},
            "y": {"field": "f", "type": "quantitative", "scale": {"type": "log", "domain": [0.0004, 0.0151], "nice": false},
              "axis": {"orient": "left", "values": [0.001, 0.01], "tickSize": 10, "offset": -10, "labels": false, "title": null}}
          }
        },
        {
          "data": {"name": "model"},
          "transform": [{"filter": "datum.c == 'green'"}],
          "mark": {"type": "line", "color": "#7ee82a", "strokeWidth": 2, "strokeDash": [14, 8], "clip": true},
          "encoding": {
            "x": {"field": "E", "type": "quantitative", "scale": {"type": "log", "domain": [0.4, 10.9], "nice": false},
              "axis": {"orient": "top", "values": [0.5, 0.6, 0.7, 0.8, 0.9, 1, 2, 3, 4, 5, 6, 7, 8, 9, 10], "tickSize": 5, "offset": -5, "labels": false, "title": null}},
            "y": {"field": "f", "type": "quantitative", "scale": {"type": "log", "domain": [0.0004, 0.0151], "nice": false},
              "axis": {"orient": "right", "values": [0.0005, 0.0006, 0.0007, 0.0008, 0.0009, 0.001, 0.002, 0.003, 0.004, 0.005, 0.006, 0.007, 0.008, 0.009, 0.01], "tickSize": 5, "offset": -5, "labels": false, "title": null}}
          }
        },
        {
          "data": {"name": "model"},
          "transform": [{"filter": "datum.c == 'red'"}],
          "mark": {"type": "line", "color": "#ff0000", "strokeWidth": 2.4, "clip": true},
          "encoding": {
            "x": {"field": "E", "type": "quantitative", "scale": {"type": "log", "domain": [0.4, 10.9], "nice": false},
              "axis": {"orient": "top", "values": [1, 10], "tickSize": 10, "offset": -10, "labels": false, "title": null}},
            "y": {"field": "f", "type": "quantitative", "scale": {"type": "log", "domain": [0.0004, 0.0151], "nice": false},
              "axis": {"orient": "right", "values": [0.001, 0.01], "tickSize": 10, "offset": -10, "labels": false, "title": null}}
          }
        }
      ]
    },
    {
      "width": 760,
      "height": 151,
      "resolve": {"axis": {"x": "independent", "y": "independent"}},
      "layer": [
        {
          "data": {"values": [{}]},
          "mark": {"type": "rule", "color": "black", "strokeWidth": 1.5, "strokeDash": [12, 8]},
          "encoding": {
            "y": {"datum": 0, "type": "quantitative", "scale": {"domain": [-4.95, 5.0], "nice": false, "zero": false}, "axis": null}
          }
        },
        {
          "data": {"name": "res_g"},
          "mark": {"type": "rule", "color": "#8fe35a", "opacity": 0.85, "strokeWidth": 1.5},
          "encoding": {
            "x": {"field": "E", "type": "quantitative", "scale": {"type": "log", "domain": [0.4, 10.9], "nice": false},
              "axis": {"orient": "bottom", "values": [0.5, 0.6, 0.7, 0.8, 0.9, 1, 2, 3, 4, 5, 6, 7, 8, 9, 10], "tickSize": 5, "offset": -5,
                "labelExpr": "datum.value == 0.5 ? '0.5' : datum.value == 1 ? '1' : datum.value == 2 ? '2' : datum.value == 5 ? '5' : datum.value == 10 ? '10' : ''",
                "labelPadding": 8, "title": "Energy (keV)", "titlePadding": 15}},
            "y": {"field": "lo", "type": "quantitative", "scale": {"domain": [-4.95, 5.0], "nice": false, "zero": false},
              "axis": {"orient": "left", "values": [-4, -3, -2, -1, 0, 1, 2, 3, 4], "tickSize": 5, "offset": -5,
                "labelExpr": "datum.value == 4 ? '4' : datum.value == 2 ? '2' : datum.value == 0 ? '0' : datum.value == -2 ? '−2' : datum.value == -4 ? '−4' : ''",
                "labelAngle": -90, "labelAlign": "center", "labelBaseline": "bottom", "labelPadding": 10,
                "title": "χ", "titlePadding": 4}},
            "y2": {"field": "hi"}
          }
        },
        {
          "data": {"name": "res_g"},
          "mark": {"type": "point", "shape": "triangle-up", "filled": false, "size": 110, "stroke": "#1a961a", "strokeWidth": 1.3, "opacity": 0.95},
          "encoding": {
            "x": {"field": "E", "type": "quantitative", "scale": {"type": "log", "domain": [0.4, 10.9], "nice": false},
              "axis": {"orient": "bottom", "values": [1, 10], "tickSize": 10, "offset": -10, "labels": false, "title": null}},
            "y": {"field": "r", "type": "quantitative", "scale": {"domain": [-4.95, 5.0], "nice": false, "zero": false},
              "axis": {"orient": "left", "values": [-4, -2, 0, 2, 4], "tickSize": 10, "offset": -10, "labels": false, "title": null}}
          }
        },
        {
          "data": {"name": "res_b"},
          "mark": {"type": "rule", "color": "#a6f2e6", "opacity": 0.9, "strokeWidth": 1.5},
          "encoding": {
            "x": {"field": "E", "type": "quantitative", "scale": {"type": "log", "domain": [0.4, 10.9], "nice": false},
              "axis": {"orient": "top", "values": [0.5, 0.6, 0.7, 0.8, 0.9, 1, 2, 3, 4, 5, 6, 7, 8, 9, 10], "tickSize": 5, "offset": -5, "labels": false, "title": null}},
            "y": {"field": "lo", "type": "quantitative", "scale": {"domain": [-4.95, 5.0], "nice": false, "zero": false},
              "axis": {"orient": "right", "values": [-4, -3, -2, -1, 0, 1, 2, 3, 4], "tickSize": 5, "offset": -5, "labels": false, "title": null}},
            "y2": {"field": "hi"}
          }
        },
        {
          "data": {"name": "res_b"},
          "mark": {"type": "point", "shape": "square", "filled": false, "size": 85, "stroke": "#3457f2", "strokeWidth": 1.4, "opacity": 0.85},
          "encoding": {
            "x": {"field": "E", "type": "quantitative", "scale": {"type": "log", "domain": [0.4, 10.9], "nice": false},
              "axis": {"orient": "top", "values": [1, 10], "tickSize": 10, "offset": -10, "labels": false, "title": null}},
            "y": {"field": "r", "type": "quantitative", "scale": {"domain": [-4.95, 5.0], "nice": false, "zero": false},
              "axis": {"orient": "right", "values": [-4, -2, 0, 2, 4], "tickSize": 10, "offset": -10, "labels": false, "title": null}}
          }
        }
      ]
    }
  ]
}
